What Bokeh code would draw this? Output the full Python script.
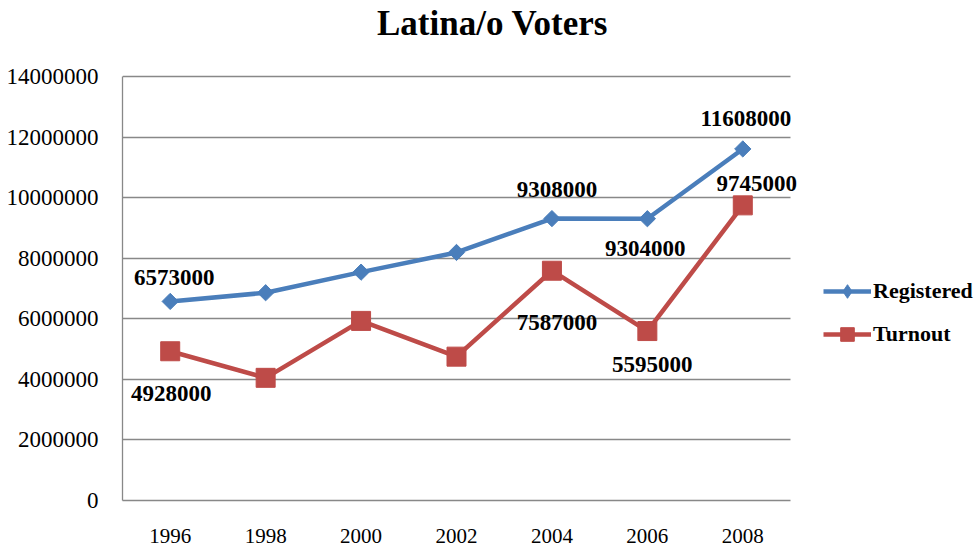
import math
from bokeh.plotting import figure
from bokeh.models import (ColumnDataSource, Range1d, FixedTicker, Grid,
                          NumeralTickFormatter, Legend, LegendItem, Label)
from bokeh.core.properties import value
from bokeh.embed import file_html
from bokeh.resources import INLINE

# ---- data ----
years = ["1996", "1998", "2000", "2002", "2004", "2006", "2008"]
registered = [6573000, 6860000, 7540000, 8190000, 9308000, 9304000, 11608000]
turnout = [4928000, 4050000, 5930000, 4750000, 7587000, 5595000, 9745000]
y_ticks = [0, 2000000, 4000000, 6000000, 8000000, 10000000, 12000000, 14000000]
title_text = "Latina/o Voters"

# ---- label styling (which points are labelled, pixel nudges) ----
reg_labelled = [True, False, False, False, True, True, True]
reg_dx = [4, 0, 0, 0, 5, -2, 3]
reg_dy = [-24, 0, 0, 0, -29, 30, -30]
turn_labelled = [True, False, False, False, True, True, True]
turn_dx = [1, 0, 0, 0, 5, 5, 14]
turn_dy = [42, 0, 0, 0, 52, 33, -22]

SERIF = "Liberation Serif"
BLUE = "#4A7EBB"
RED = "#BE4B48"
GRID = "#888888"

# ---- layout (pixels) ----
W, H = 977, 548
LEFT, PLOT_RIGHT, PLOT_TOP, BOTTOM = 122, 790, 76, 48
frame_w = W - LEFT
frame_h = H - BOTTOM
n = len(years)
unit_px = (PLOT_RIGHT - LEFT) / n
x_end = -0.5 + frame_w / unit_px
y_max = y_ticks[-1]
y_end = y_max * frame_h / (frame_h - PLOT_TOP)

xs = list(range(n))

p = figure(width=W, height=H, x_range=Range1d(-0.5, x_end), y_range=Range1d(0, y_end),
           output_backend="svg", toolbar_location=None, title=None,
           min_border_left=LEFT, min_border_right=0, min_border_top=0,
           min_border_bottom=BOTTOM, outline_line_color=None)

# axes
p.yaxis.ticker = FixedTicker(ticks=y_ticks)
p.yaxis.formatter = NumeralTickFormatter(format="0")
p.yaxis.bounds = (0, y_max)
p.xaxis.ticker = FixedTicker(ticks=xs)
p.xaxis.major_label_overrides = {i: yr for i, yr in zip(xs, years)}
p.xaxis.bounds = (-0.5, n - 0.5)
for ax in (p.xaxis, p.yaxis):
    ax.major_tick_line_color = None
    ax.minor_tick_line_color = None
    ax.axis_line_color = GRID
    ax.axis_line_width = 1.3
    ax.major_label_text_font = SERIF
    ax.major_label_text_color = "black"
p.yaxis.major_label_text_font_size = "23px"
p.xaxis.major_label_text_font_size = "21px"
p.yaxis.major_label_standoff = 18
p.xaxis.major_label_standoff = 22

p.xgrid.grid_line_color = None
if "cross_bounds" in Grid.properties():
    p.ygrid.grid_line_color = GRID
    p.ygrid.grid_line_width = 1.3
    p.ygrid.cross_bounds = (-0.5, n - 0.5)
else:
    p.ygrid.grid_line_color = None
    p.segment(x0=[-0.5] * len(y_ticks), x1=[n - 0.5] * len(y_ticks), y0=y_ticks,
              y1=y_ticks, line_color=GRID, line_width=1.3)

src = ColumnDataSource(dict(x=xs, reg=registered, turn=turnout))

l1 = p.line("x", "reg", source=src, line_color=BLUE, line_width=4.5)
s1 = p.scatter("x", "reg", source=src, marker="square", size=11.5, angle=math.pi / 4,
               fill_color=BLUE, line_color=BLUE)
l2 = p.line("x", "turn", source=src, line_color=RED, line_width=4.5)
s2 = p.scatter("x", "turn", source=src, marker="square", size=19,
               fill_color=RED, line_color=RED)

# legend-only swatch marker (diamond shape, nothing visible in the plot)
nan = float("nan")
leg_src = ColumnDataSource(dict(x=[nan], y=[nan]))
d_leg = p.scatter("x", "y", source=leg_src, marker="diamond", size=12,
                  fill_color=BLUE, line_color=BLUE)


def label_source(vals, flags, dxs, dys):
    lx, ly, lt, ox, oy = [], [], [], [], []
    for xi, v, f, dx, dy in zip(xs, vals, flags, dxs, dys):
        if f:
            lx.append(xi); ly.append(v); lt.append(str(v)); ox.append(dx); oy.append(dy)
    return ColumnDataSource(dict(x=lx, y=ly, t=lt, ox=ox, oy=oy))


for srcl in (label_source(registered, reg_labelled, reg_dx, reg_dy),
             label_source(turnout, turn_labelled, turn_dx, turn_dy)):
    p.text("x", "y", text="t", source=srcl, x_offset="ox", y_offset="oy",
           text_font=value(SERIF), text_font_size="23px", text_font_style="bold",
           text_align="center", text_baseline="middle", text_color="black")

# title
p.add_layout(Label(x=492 - LEFT, y=frame_h - 23, x_units="screen", y_units="screen",
                   text=title_text, text_font=SERIF, text_font_size="35px",
                   text_font_style="bold", text_color="black",
                   text_align="center", text_baseline="middle"))

legend = Legend(items=[LegendItem(label="Registered", renderers=[l1, d_leg]),
                       LegendItem(label="Turnout", renderers=[l2, s2])],
                location=(823 - LEFT, frame_h - 351), padding=0, margin=0, spacing=9,
                glyph_width=48, glyph_height=34, label_height=34, label_standoff=2,
                border_line_color=None, background_fill_alpha=0,
                label_text_font=SERIF, label_text_font_size="22px",
                label_text_font_style="bold", label_text_color="black")
p.add_layout(legend)

open("out.html", "w").write(file_html(p, INLINE))
